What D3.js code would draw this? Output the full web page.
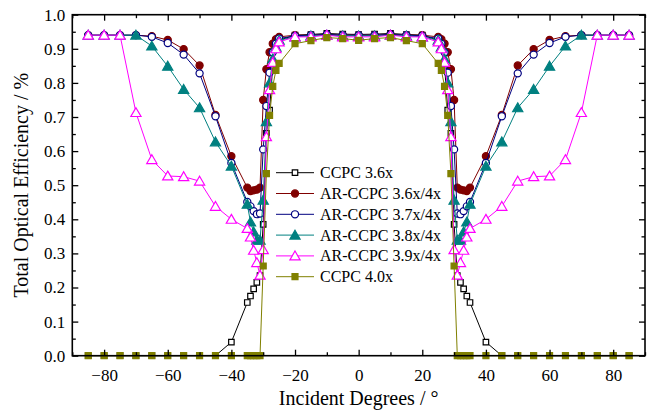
<!DOCTYPE html>
<html><head><meta charset="utf-8">
<script src="https://cdn.jsdelivr.net/npm/d3@7"></script>
<style>body{margin:0;background:#fff} svg{display:block}</style>
</head><body>
<svg id="c" width="653" height="411"></svg>
<script>
const angles = [-85,-80,-75,-70,-65,-60,-55,-50,-45,-40,-35,-34,-33,-32,-31,-30,-29,-28,-27,-26,-25,-20,-15,-10,-5,0,5,10,15,20,25,26,27,28,29,30,31,32,33,34,35,40,45,50,55,60,65,70,75,80,85];
const ccpc36 = [0,0,0,0,0,0,0,0,0,0.04,0.156,0.175,0.196,0.215,0.235,0.385,0.652,0.72,0.85,0.90,0.925,0.94,0.942,0.945,0.943,0.942,0.943,0.945,0.942,0.94,0.925,0.90,0.85,0.72,0.652,0.385,0.235,0.215,0.196,0.175,0.156,0.04,0,0,0,0,0,0,0,0,0];
const ar36 = [0.94,0.94,0.94,0.94,0.937,0.926,0.899,0.851,0.706,0.585,0.493,0.483,0.485,0.487,0.493,0.75,0.84,0.89,0.915,0.928,0.935,0.94,0.94,0.942,0.94,0.94,0.94,0.942,0.94,0.94,0.935,0.928,0.915,0.89,0.84,0.75,0.493,0.487,0.485,0.483,0.493,0.585,0.706,0.851,0.899,0.926,0.937,0.94,0.94,0.94,0.94];
const ar37 = [0.94,0.94,0.94,0.94,0.935,0.917,0.883,0.828,0.702,0.565,0.451,0.438,0.424,0.415,0.417,0.605,0.732,0.83,0.89,0.915,0.93,0.938,0.94,0.942,0.94,0.94,0.94,0.942,0.94,0.938,0.93,0.915,0.89,0.83,0.732,0.605,0.417,0.415,0.424,0.438,0.451,0.565,0.702,0.828,0.883,0.917,0.935,0.94,0.94,0.94,0.94];
const ar38 = [0.94,0.94,0.94,0.94,0.908,0.849,0.781,0.727,0.627,0.556,0.444,0.392,0.363,0.339,0.339,0.456,0.686,0.80,0.87,0.905,0.925,0.935,0.938,0.94,0.938,0.938,0.938,0.94,0.938,0.935,0.925,0.905,0.87,0.80,0.686,0.456,0.339,0.339,0.363,0.392,0.444,0.556,0.627,0.727,0.781,0.849,0.908,0.94,0.94,0.94,0.94];
const ar39 = [0.94,0.94,0.94,0.713,0.575,0.527,0.525,0.512,0.438,0.40,0.373,0.348,0.309,0.273,0.236,0.311,0.642,0.78,0.86,0.90,0.92,0.935,0.935,0.94,0.935,0.935,0.935,0.94,0.935,0.935,0.92,0.90,0.86,0.78,0.642,0.311,0.236,0.273,0.309,0.348,0.373,0.40,0.438,0.512,0.525,0.527,0.575,0.713,0.94,0.94,0.94];
const ccpc40 = [0,0,0,0,0,0,0,0,0,0,0,0,0,0,0,0.263,0.534,0.705,0.79,0.837,0.857,0.915,0.924,0.933,0.93,0.925,0.93,0.933,0.924,0.915,0.857,0.837,0.79,0.705,0.534,0.263,0,0,0,0,0,0,0,0,0,0,0,0,0,0,0];
const seriesNames = ["CCPC 3.6x","AR-CCPC 3.6x/4x","AR-CCPC 3.7x/4x","AR-CCPC 3.8x/4x","AR-CCPC 3.9x/4x","CCPC 4.0x"];
const xTicks = [-80,-60,-40,-20,0,20,40,60,80];
const xMinorTicks = [-90,-70,-50,-30,-10,10,30,50,70,90];
const yTicks = [0,0.1,0.2,0.3,0.4,0.5,0.6,0.7,0.8,0.9,1.0];
const yMinorTicks = [0.05,0.15,0.25,0.35,0.45,0.55,0.65,0.75,0.85,0.95];

const styles = [
  {color:"#000000", sym:d3.symbolSquare, size:30, fill:"#ffffff"},
  {color:"#800000", sym:d3.symbolCircle, size:40, fill:"#800000"},
  {color:"#000080", sym:d3.symbolCircle, size:40, fill:"#ffffff"},
  {color:"#008080", sym:d3.symbolTriangle, size:45, fill:"#008080"},
  {color:"#ff00ff", sym:d3.symbolTriangle, size:45, fill:"#ffffff"},
  {color:"#808000", sym:d3.symbolSquare, size:36, fill:"#808000"}
];
const allValues = [ccpc36, ar36, ar37, ar38, ar39, ccpc40];

const svg = d3.select("#c");
const L = 72.3, R = 645, T = 14.7, B = 355.7;
const x = d3.scaleLinear().domain([-90,90]).range([L,R]);
const y = d3.scaleLinear().domain([0,1]).range([B,T]);
const font = "'Liberation Serif','Times New Roman',serif";

const g = svg.append("g");
const line = d3.line().x(d=>x(d[0])).y(d=>y(d[1]));
allValues.forEach((vals,i)=>{
  const st = styles[i];
  const pts = angles.map((a,j)=>[a,vals[j]]);
  const sg = g.append("g");
  sg.append("path").attr("d", line(pts)).attr("fill","none").attr("stroke",st.color).attr("stroke-width",1);
  sg.selectAll("path.m").data(pts).enter().append("path").attr("class","m")
    .attr("d", d3.symbol().type(st.sym).size(st.size))
    .attr("transform", d=>`translate(${x(d[0])},${y(d[1]) + (st.sym===d3.symbolTriangle?1:0)})`)
    .attr("fill", st.fill).attr("stroke", st.color).attr("stroke-width",1.2);
});

// axes with inward ticks on all four sides
const axB = d3.axisBottom(x).tickValues(xTicks).tickSize(-6).tickPadding(13).tickFormat(d3.format("d"));
const axBm = d3.axisBottom(x).tickValues(xMinorTicks).tickSize(-3.5).tickFormat("");
const axT = d3.axisTop(x).tickValues(xTicks).tickSize(-6).tickFormat("");
const axTm = d3.axisTop(x).tickValues(xMinorTicks).tickSize(-3.5).tickFormat("");
const axL = d3.axisLeft(y).tickValues(yTicks).tickSize(-6).tickPadding(7).tickFormat(d3.format(".1f"));
const axLm = d3.axisLeft(y).tickValues(yMinorTicks).tickSize(-3.5).tickFormat("");
const axR = d3.axisRight(y).tickValues(yTicks).tickSize(-6).tickFormat("");
const axRm = d3.axisRight(y).tickValues(yMinorTicks).tickSize(-3.5).tickFormat("");
function styleAx(sel){
  sel.select(".domain").remove();
  sel.selectAll("line").attr("stroke","#000").attr("stroke-width",1.3);
  sel.selectAll("text").attr("font-family",font).attr("font-size",17).attr("fill","#000");
}
svg.append("g").attr("transform",`translate(0,${B})`).call(axB).call(styleAx);
svg.append("g").attr("transform",`translate(0,${B})`).call(axBm).call(styleAx);
svg.append("g").attr("transform",`translate(0,${T})`).call(axT).call(styleAx);
svg.append("g").attr("transform",`translate(0,${T})`).call(axTm).call(styleAx);
svg.append("g").attr("transform",`translate(${L},0)`).call(axL).call(styleAx);
svg.append("g").attr("transform",`translate(${L},0)`).call(axLm).call(styleAx);
svg.append("g").attr("transform",`translate(${R},0)`).call(axR).call(styleAx);
svg.append("g").attr("transform",`translate(${R},0)`).call(axRm).call(styleAx);

svg.append("rect").attr("x",L).attr("y",T).attr("width",R-L).attr("height",B-T)
  .attr("fill","none").attr("stroke","#000").attr("stroke-width",1.6);

svg.append("text").attr("x",(L+R)/2).attr("y",405).attr("text-anchor","middle")
  .attr("font-family",font).attr("font-size",20).text("Incident Degrees / °");
svg.append("text").attr("transform",`translate(28,${(T+B)/2}) rotate(-90)`).attr("text-anchor","middle")
  .attr("font-family",font).attr("font-size",20).text("Total Optical Efficiency / %");

// legend
const lg = svg.append("g");
seriesNames.forEach((name,i)=>{
  const st = styles[i];
  const yy = 172.7 + i*20.8;
  lg.append("line").attr("x1",276).attr("x2",314).attr("y1",yy).attr("y2",yy).attr("stroke",st.color).attr("stroke-width",1);
  lg.append("path").attr("d", d3.symbol().type(st.sym).size(st.size)())
    .attr("transform",`translate(295,${yy + (st.sym===d3.symbolTriangle?1:0)})`)
    .attr("fill",st.fill).attr("stroke",st.color).attr("stroke-width",1.2);
  lg.append("text").attr("x",320).attr("y",yy+5.5).attr("font-family",font).attr("font-size",16).text(name);
});
</script>
</body></html>
